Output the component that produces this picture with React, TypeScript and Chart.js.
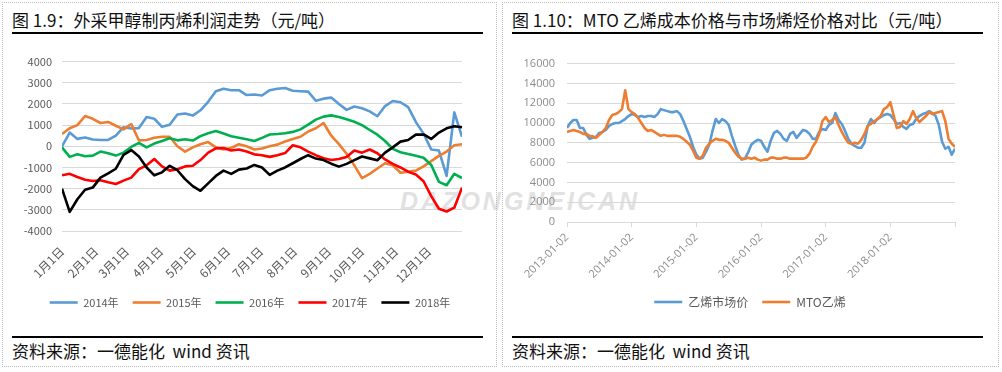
import React, { useEffect, useRef } from "react";
import { Chart, registerables } from "chart.js";

Chart.register(...registerables);

// ---------------- 图 1.9 data ----------------
const monthTickDays = [0, 31, 59, 90, 120, 151, 181, 212, 243, 273, 304, 334];
const monthTickLabels = ["1月1日", "2月1日", "3月1日", "4月1日", "5月1日", "6月1日", "7月1日", "8月1日", "9月1日", "10月1日", "11月1日", "12月1日"];
const profitTicks = [-4000, -3000, -2000, -1000, 0, 1000, 2000, 3000, 4000];
const sampleStepDays = 7;
const yearNames = ["2014年", "2015年", "2016年", "2017年", "2018年"];

const profit2014 = [0, 650, 350, 420, 320, 300, 300, 500, 900, 840, 860, 1380, 1300, 920, 1020, 1500, 1550, 1450, 1700, 2100, 2600, 2720, 2650, 2650, 2420, 2450, 2400, 2650, 2720, 2750, 2620, 2600, 2580, 2150, 2250, 2300, 2000, 1720, 1880, 1800, 1650, 1420, 1900, 2140, 2080, 1850, 1150, 600, -150, -200, -1400, 1600, 450];
const profit2015 = [580, 850, 1000, 1430, 1300, 1100, 1150, 970, 800, 1050, 280, 300, 400, 450, 450, 0, -250, -50, 100, 200, -50, -150, -80, 100, 0, -150, -100, 0, 80, 230, 340, 450, 700, 850, 1100, 500, 100, -350, -900, -1500, -1300, -1050, -800, -900, -1250, -1200, -1150, -950, -700, -450, -250, 50, 100];
const profit2016 = [-50, -500, -380, -470, -440, -250, -330, -440, -300, -30, 160, -50, 130, 250, 380, 280, 330, 270, 480, 620, 720, 600, 470, 400, 330, 250, 400, 560, 580, 620, 680, 800, 1020, 1260, 1400, 1460, 1380, 1280, 1160, 1000, 770, 550, 250, -120, -280, -360, -450, -540, -880, -1680, -1840, -1300, -1500];
const profit2017 = [-1370, -1300, -1450, -1580, -1640, -1600, -1700, -1780, -1620, -1480, -1080, -900, -600, -950, -1150, -1080, -950, -920, -650, -300, -100, -80, -200, -150, -250, -380, -420, -500, -420, -320, 50, -50, -250, -420, -560, -650, -600, -500, -200, -300, -150, -330, -620, -830, -1000, -1200, -1330, -1650, -2350, -2950, -3080, -2900, -1950];
const profit2018 = [-2000, -3100, -2500, -2050, -1950, -1480, -1280, -1060, -400, -180, -480, -1000, -1370, -1230, -920, -1130, -1550, -1880, -2100, -1750, -1400, -1150, -1300, -1100, -1050, -880, -1000, -1350, -1150, -1000, -800, -600, -420, -580, -650, -820, -960, -830, -650, -480, -570, -660, -300, -50, 220, 300, 550, 560, 350, 650, 850, 950, 900];
const profitSeries = [profit2014, profit2015, profit2016, profit2017, profit2018];

// ---------------- 图 1.10 data ----------------
const yearTickPos = [0, 20, 40, 60, 80, 100, 120];
const yearTickLabels = ["2013-01-02", "2014-01-02", "2015-01-02", "2016-01-02", "2017-01-02", "2018-01-02", ""];
const priceTicks = [0, 2000, 4000, 6000, 8000, 10000, 12000, 14000, 16000];
const priceNames = ["乙烯市场价", "MTO乙烯"];

const ethyleneMarket = [
  9500, 10000, 10300, 10300, 9500, 9500, 8800, 8400, 8500, 8600,
  9000, 9100, 9300, 9700, 9900, 10000, 10000, 10200, 10400, 10700,
  10900, 10800, 10600, 10700, 10600, 10700, 10700, 10600, 10900, 11400,
  11300, 11200, 11100, 11100, 11200, 10900, 10200, 9400, 8600, 7600,
  6800, 6400, 6500, 7100, 7800, 9200, 10400, 10000, 10400, 10200,
  9800, 8700, 7700, 6800, 6300, 6400, 7000, 7800, 8100, 8300,
  8200, 7600, 7100, 8200, 9000, 9200, 8900, 8400, 8200, 8900,
  9100, 8500, 8900, 9300, 9200, 8900, 8400, 8400, 9100, 9400,
  9300, 9800, 10000, 11000, 10300, 9900, 9200, 8400, 7900, 7700,
  7500, 7500, 8000, 9700, 10400, 10000, 10400, 10600, 10800, 10900,
  10800, 10400, 9900, 10000, 9600, 9400, 9800, 9900, 10400, 10700,
  10900, 11000, 11200, 11000, 10700, 9800, 8100, 7400, 7600, 6800,
  7400,
];
const mtoEthylene = [
  9100, 9200, 9300, 9200, 9100, 8900, 8900, 8700, 8650, 8500,
  8800, 9100, 9500, 10300, 10800, 10900, 11100, 11400, 13300, 11400,
  11100, 10900, 10500, 10000, 9500, 9200, 9300, 9100, 8900, 8700,
  8800, 8700, 8700, 8700, 8700, 8600, 8400, 8100, 7800, 7200,
  6500, 6400, 6700, 7500, 7900, 8200, 8400, 8300, 8300, 8200,
  8000, 7500, 7000, 6600, 6400, 6400, 6500, 6400, 6500, 6300,
  6200, 6300, 6300, 6500, 6500, 6400, 6400, 6500, 6500, 6400,
  6400, 6400, 6400, 6400, 6500, 6900, 7600, 8100, 8900, 10200,
  10600, 10100, 10300, 10600, 9800, 9100, 8500, 8000, 7900, 8000,
  7900, 8300, 8900, 9700, 9900, 10200, 10400, 10700, 11400, 11600,
  12100, 10800, 9500, 9600, 10200, 9900, 10400, 11200, 10500, 10100,
  10400, 10700, 11100, 10900, 11000, 11100, 11200, 10200, 8400, 7900,
  7600,
];
const priceSeries = [ethyleneMarket, mtoEthylene];

// ---------------- styles ----------------
const CJK = '"Noto Sans CJK SC", "Noto Sans", sans-serif';
const yearColors = ["#5B9BD5", "#ED7D31", "#00B050", "#FF0000", "#000000"];
const priceColors = ["#5B9BD5", "#ED7D31"];
const GRID = "#d9d9d9";

function spacerAxis(width: number): any {
  return {
    position: "right",
    display: true,
    grid: { display: false, drawTicks: false },
    border: { display: false },
    ticks: { display: false },
    afterFit: (s: any) => {
      s.width = width;
    },
  };
}

function buildProfitConfig(): any {
  return {
    type: "line",
    data: {
      datasets: profitSeries.map((vals, k) => ({
        label: yearNames[k],
        data: vals.map((v, i) => ({ x: i * sampleStepDays, y: v })),
        borderColor: yearColors[k],
        backgroundColor: yearColors[k],
        borderWidth: 2.6,
        pointRadius: 0,
        borderJoinStyle: "round",
        tension: 0,
        order: profitSeries.length - k,
      })),
    },
    options: {
      responsive: false,
      animation: false,
      layout: { padding: { left: 0, right: 0, top: 15, bottom: 12 } },
      plugins: {
        tooltip: { enabled: false },
        legend: {
          position: "bottom",
          labels: {
            usePointStyle: true,
            pointStyle: "line",
            pointStyleWidth: 28,
            padding: 14,
            color: "#595959",
            font: { size: 11, family: CJK },
            sort: (a: any, b: any) => a.datasetIndex - b.datasetIndex,
          },
        },
      },
      scales: {
        x: {
          type: "linear",
          min: 0,
          max: 364,
          grid: { display: false, drawTicks: false },
          border: { display: false },
          afterBuildTicks: (s: any) => {
            s.ticks = monthTickDays.map((v) => ({ value: v }));
          },
          afterFit: (s: any) => {
            s.height = 52;
          },
          ticks: {
            autoSkip: false,
            minRotation: 45,
            maxRotation: 45,
            padding: 13,
            color: "#595959",
            font: { size: 12, family: CJK },
            callback: (v: any) => monthTickLabels[monthTickDays.indexOf(v)],
          },
        },
        y: {
          min: -4000,
          max: 4000,
          grid: { color: GRID, drawTicks: false },
          border: { display: false },
          afterBuildTicks: (s: any) => {
            s.ticks = profitTicks.map((v) => ({ value: v }));
          },
          afterFit: (s: any) => {
            s.width = 59;
          },
          ticks: {
            padding: 10,
            color: "#595959",
            font: { size: 11, family: CJK },
            callback: (v: any) => String(v),
          },
        },
        yPad: spacerAxis(35),
      },
    },
  };
}

function buildPriceConfig(): any {
  return {
    type: "line",
    data: {
      datasets: priceSeries.map((vals, k) => ({
        label: priceNames[k],
        data: vals.map((v, i) => ({ x: i, y: v })),
        borderColor: priceColors[k],
        backgroundColor: priceColors[k],
        borderWidth: 2.6,
        pointRadius: 0,
        borderJoinStyle: "round",
        tension: 0,
        order: priceSeries.length - k,
      })),
    },
    options: {
      responsive: false,
      animation: false,
      layout: { padding: { left: 0, right: 0, top: 15, bottom: 12 } },
      plugins: {
        tooltip: { enabled: false },
        legend: {
          position: "bottom",
          labels: {
            usePointStyle: true,
            pointStyle: "line",
            pointStyleWidth: 28,
            padding: 14,
            color: "#595959",
            font: { size: 12, family: CJK },
            sort: (a: any, b: any) => a.datasetIndex - b.datasetIndex,
          },
        },
      },
      scales: {
        x: {
          type: "linear",
          min: 0,
          max: 120,
          grid: { display: true, drawOnChartArea: false, drawTicks: true, tickLength: 5, color: GRID },
          border: { display: true, color: GRID },
          afterBuildTicks: (s: any) => {
            s.ticks = yearTickPos.map((v) => ({ value: v }));
          },
          afterFit: (s: any) => {
            s.height = 60;
          },
          ticks: {
            autoSkip: false,
            minRotation: 45,
            maxRotation: 45,
            padding: 4,
            color: "#8c8c8c",
            font: { size: 11, family: '"Open Sans", sans-serif' },
            callback: (v: any) => yearTickLabels[yearTickPos.indexOf(v)],
          },
        },
        y: {
          min: 0,
          max: 16000,
          grid: { color: GRID, drawTicks: false },
          border: { display: false },
          afterBuildTicks: (s: any) => {
            s.ticks = priceTicks.map((v) => ({ value: v }));
          },
          afterFit: (s: any) => {
            s.width = 64;
          },
          ticks: {
            padding: 12,
            color: "#8c8c8c",
            font: { size: 11, family: '"Open Sans", sans-serif' },
            callback: (v: any) => String(v),
          },
        },
        yPad: spacerAxis(42),
      },
    },
  };
}

function ChartCanvas(props: { build: () => any; left: number; top: number; width: number; height: number }) {
  const ref = useRef<HTMLCanvasElement>(null);
  useEffect(() => {
    const chart = new Chart(ref.current as HTMLCanvasElement, props.build());
    return () => chart.destroy();
  }, []);
  return (
    <canvas
      ref={ref}
      width={props.width}
      height={props.height}
      style={{ position: "absolute", left: props.left, top: props.top, width: props.width, height: props.height }}
    />
  );
}

const textBase: React.CSSProperties = {
  position: "absolute",
  fontFamily: CJK,
  color: "#111",
  whiteSpace: "nowrap",
  lineHeight: "24px",
};

function Panel(props: { left: number; width: number; title: string }) {
  const { left, width, title } = props;
  return (
    <>
      <div
        style={{
          position: "absolute",
          left,
          top: 2,
          width,
          height: 365,
          border: "1px dotted #bdbdbd",
          boxSizing: "border-box",
        }}
      />
      <div style={{ ...textBase, left: left + 10, top: 8, fontSize: 17 }}>{title}</div>
      <div style={{ position: "absolute", left: left + 10, top: 32, width: 471, height: 2, background: "#000" }} />
      <div style={{ position: "absolute", left: left + 10, top: 336, width: 471, height: 2, background: "#000" }} />
      <div style={{ ...textBase, left: left + 10, top: 339, fontSize: 17 }}>资料来源：一德能化&nbsp;&nbsp;wind 资讯</div>
    </>
  );
}

export default function App() {
  return (
    <div style={{ position: "absolute", left: 0, top: 0, width: 1002, height: 372, background: "#fff", overflow: "hidden" }}>
      <div
        style={{
          position: "absolute",
          left: 400,
          top: 187,
          fontFamily: '"Liberation Sans", Arial, sans-serif',
          fontWeight: 700,
          fontStyle: "italic",
          fontSize: 25,
          letterSpacing: 3,
          color: "rgba(200,200,200,0.55)",
          whiteSpace: "nowrap",
        }}
      >
        DAZONGNEICAN
      </div>
      <Panel left={2} width={495} title="图 1.9：外采甲醇制丙烯利润走势（元/吨）" />
      <Panel left={502} width={497} title="图 1.10：MTO 乙烯成本价格与市场烯烃价格对比（元/吨）" />
      <ChartCanvas build={buildProfitConfig} left={3} top={45} width={494} height={285} />
      <ChartCanvas build={buildPriceConfig} left={503} top={45} width={494} height={285} />
    </div>
  );
}
